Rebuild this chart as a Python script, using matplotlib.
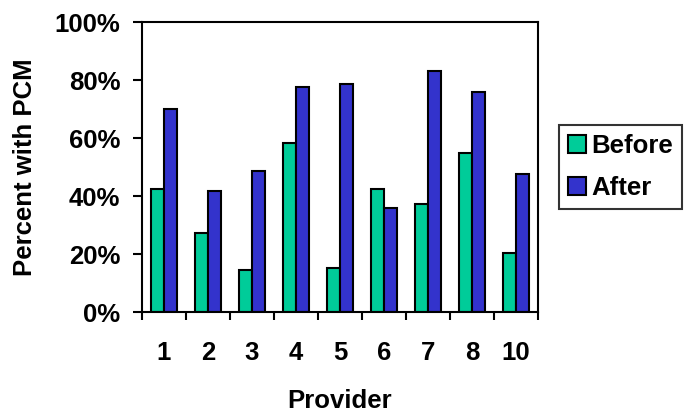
import matplotlib
matplotlib.use("Agg")
import matplotlib.pyplot as plt
import numpy as np
from matplotlib.ticker import PercentFormatter

providers = ["1", "2", "3", "4", "5", "6", "7", "8", "10"]
before = [42.4, 27.4, 14.6, 58.2, 15.1, 42.4, 37.2, 54.8, 20.3]
after = [70.0, 41.7, 48.7, 77.5, 78.6, 35.8, 83.1, 75.8, 47.6]

plt.rcParams['font.family'] = ['Liberation Sans', 'DejaVu Sans']
plt.rcParams['font.weight'] = 'bold'

FS = 18.5

fig = plt.figure(figsize=(6.87, 4.13), dpi=100)
ax = fig.add_axes([142/687, 1-312/413, (538-142)/687, (312-22)/413])

x = np.arange(len(providers))
w = 0.29
ax.bar(x - w/2, before, w, color='#00CC99', edgecolor='black', linewidth=1.5, label='Before')
ax.bar(x + w/2, after, w, color='#3333CC', edgecolor='black', linewidth=1.5, label='After')

ax.set_xlim(-0.5, len(providers) - 0.5)
ax.set_ylim(0, 100)
ax.set_yticks(np.arange(0, 101, 20))
ax.yaxis.set_major_formatter(PercentFormatter(decimals=0))
ax.set_xticks(np.arange(-0.5, len(providers), 1.0))
ax.set_xticklabels([])
ax.set_xticks(x, minor=True)
ax.set_xticklabels(providers, minor=True)
ax.tick_params(axis='x', which='major', length=6, width=1.5, direction='out')
ax.tick_params(axis='x', which='minor', length=0, pad=21, labelsize=FS)
ax.tick_params(axis='y', length=6.5, width=1.5, direction='out', labelsize=FS, pad=9)
for lbl in ax.get_xticklabels(minor=True) + ax.get_yticklabels():
    lbl.set_fontweight('bold')
for s in ax.spines.values():
    s.set_linewidth(1.5)

ax.set_xlabel('Provider', fontsize=FS, fontweight='bold', labelpad=17)
ax.set_ylabel('Percent with PCM', fontsize=FS, fontweight='bold', labelpad=13)

leg = fig.legend(loc='upper left', bbox_to_anchor=(559/687, 1-125/413), fontsize=FS,
                 frameon=True, fancybox=False, edgecolor='black', handlelength=0.7,
                 handleheight=0.7, handletextpad=0.2, borderpad=0.35, labelspacing=0.7,
                 borderaxespad=0)
leg.get_frame().set_linewidth(1.5)

fig.savefig('out.png', dpi=100)
